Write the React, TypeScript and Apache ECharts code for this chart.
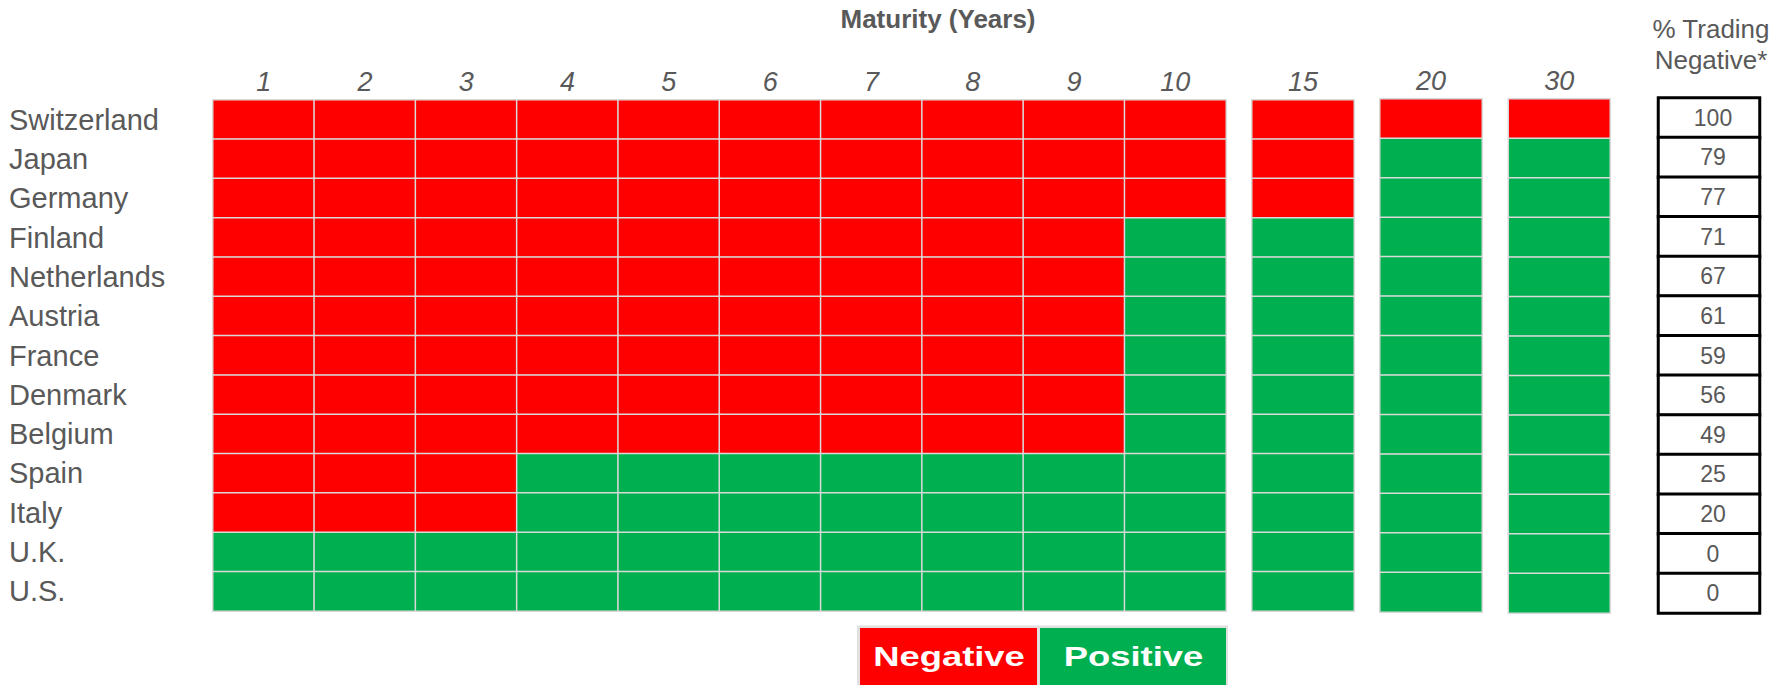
import React, { useEffect, useRef } from "react";
import * as echarts from "echarts";

const countries = [
  "Switzerland", "Japan", "Germany", "Finland", "Netherlands", "Austria",
  "France", "Denmark", "Belgium", "Spain", "Italy", "U.K.", "U.S.",
];
const shortMaturities = ["1", "2", "3", "4", "5", "6", "7", "8", "9", "10"];
const longMaturities = ["15", "20", "30"];
// longest maturity (years) at which each country's yield trades negative (0 = none)
const lastNegativeMaturity = [30, 15, 15, 9, 9, 9, 9, 9, 9, 3, 3, 0, 0];
const pctTradingNegative = [100, 79, 77, 71, 67, 61, 59, 56, 49, 25, 20, 0, 0];

const FONT = "'Liberation Sans', Arial, sans-serif";
const GREY_TEXT = "#595959";
const RED = "#FF0000";
const GREEN = "#00B050";

function cells(maturities: string[]) {
  const out: number[][] = [];
  countries.forEach((_, i) => {
    maturities.forEach((m, j) => {
      out.push([j, i, Number(m) <= lastNegativeMaturity[i] ? 1 : 0]);
    });
  });
  return out;
}

export default function App() {
  const ref = useRef<HTMLDivElement>(null);
  useEffect(() => {
    document.body.style.margin = "0";
    const chart = echarts.init(ref.current!, null, { renderer: "svg" });

    const grids = [
      { left: 213, top: 100, width: 1013, height: 511 },
      { left: 1252, top: 100, width: 102, height: 511 },
      { left: 1380, top: 99, width: 102, height: 513 },
      { left: 1508.5, top: 99, width: 101.5, height: 514 },
      { left: 1658.5, top: 98, width: 101, height: 515 },
    ];
    const colCats = [shortMaturities, [longMaturities[0]], [longMaturities[1]], [longMaturities[2]], ["%"]];

    const xAxes = colCats.map((cats, gi) => ({
      type: "category",
      gridIndex: gi,
      data: cats,
      position: "top",
      show: gi < 4,
      axisLine: { show: false },
      axisTick: { show: false },
      splitLine: { show: false },
      axisLabel: {
        fontFamily: FONT,
        fontSize: 27,
        fontStyle: "italic",
        color: GREY_TEXT,
        margin: 18,
        verticalAlign: "middle",
      },
    }));
    const yAxes = grids.map((_, gi) => ({
      type: "category",
      gridIndex: gi,
      data: countries,
      inverse: true,
      show: gi === 0,
      axisLine: { show: false },
      axisTick: { show: false },
      splitLine: { show: false },
      axisLabel: {
        fontFamily: FONT,
        fontSize: 29,
        color: GREY_TEXT,
        align: "left",
        margin: 204,
      },
    }));

    const cellStyle = { borderColor: "#d9d9d9", borderWidth: 1.5 };
    const series: any[] = [
      { type: "heatmap", xAxisIndex: 0, yAxisIndex: 0, data: cells(shortMaturities), itemStyle: cellStyle, emphasis: { disabled: true } },
      { type: "heatmap", xAxisIndex: 1, yAxisIndex: 1, data: cells([longMaturities[0]]), itemStyle: cellStyle, emphasis: { disabled: true } },
      { type: "heatmap", xAxisIndex: 2, yAxisIndex: 2, data: cells([longMaturities[1]]), itemStyle: cellStyle, emphasis: { disabled: true } },
      { type: "heatmap", xAxisIndex: 3, yAxisIndex: 3, data: cells([longMaturities[2]]), itemStyle: cellStyle, emphasis: { disabled: true } },
      {
        type: "heatmap",
        xAxisIndex: 4,
        yAxisIndex: 4,
        data: pctTradingNegative.map((v, i) => [0, i, v]),
        itemStyle: { borderColor: "#000000", borderWidth: 3 },
        emphasis: { disabled: true },
        label: {
          show: true,
          formatter: (p: any) => String(p.value[2]),
          fontFamily: FONT,
          fontSize: 23,
          color: GREY_TEXT,
          offset: [4, 0],
        },
      },
    ];

    chart.setOption({
      animation: false,
      backgroundColor: "#ffffff",
      grid: grids.map((g) => ({ ...g, containLabel: false })),
      xAxis: xAxes,
      yAxis: yAxes,
      visualMap: [
        {
          type: "piecewise",
          show: false,
          seriesIndex: [0, 1, 2, 3],
          dimension: 2,
          pieces: [
            { value: 1, color: RED, label: "Negative" },
            { value: 0, color: GREEN, label: "Positive" },
          ],
        },
        {
          type: "piecewise",
          show: false,
          seriesIndex: [4],
          dimension: 2,
          pieces: [{ min: -1, max: 1000, color: "#ffffff" }],
        },
      ],
      series,
      graphic: [
        {
          type: "text",
          x: 938,
          y: 19,
          style: {
            text: "Maturity (Years)",
            font: `bold 26px ${FONT}`,
            fill: GREY_TEXT,
            textAlign: "center",
            textVerticalAlign: "middle",
          },
        },
        {
          type: "text",
          x: 1711,
          y: 44,
          style: {
            text: "% Trading\nNegative*",
            font: `26px ${FONT}`,
            lineHeight: 31,
            fill: GREY_TEXT,
            textAlign: "center",
            textVerticalAlign: "middle",
          },
        },
        { type: "rect", shape: { x: 857, y: 625.5, width: 371, height: 60 }, style: { fill: "#e0e0e0" } },
        { type: "rect", shape: { x: 860, y: 628, width: 177, height: 57 }, style: { fill: RED } },
        { type: "rect", shape: { x: 1040, y: 628, width: 186, height: 57 }, style: { fill: GREEN } },
        {
          type: "text",
          x: 949,
          y: 657,
          scaleX: 1.3,
          style: {
            text: "Negative",
            font: `bold 28px ${FONT}`,
            fill: "#ffffff",
            textAlign: "center",
            textVerticalAlign: "middle",
          },
        },
        {
          type: "text",
          x: 1133.5,
          y: 657,
          scaleX: 1.3,
          style: {
            text: "Positive",
            font: `bold 28px ${FONT}`,
            fill: "#ffffff",
            textAlign: "center",
            textVerticalAlign: "middle",
          },
        },
      ],
    });
    return () => chart.dispose();
  }, []);
  return <div ref={ref} style={{ width: 1773, height: 685 }} />;
}
